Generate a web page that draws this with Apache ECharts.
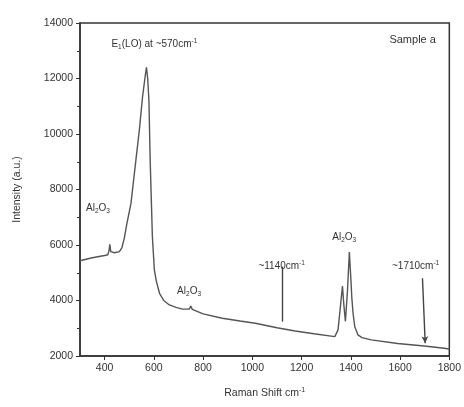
<!DOCTYPE html>
<html><head><meta charset="utf-8">
<script src="https://cdn.jsdelivr.net/npm/echarts@6/dist/echarts.min.js"></script>
<style>html,body{margin:0;padding:0;background:#fff}#c{width:464px;height:407px}</style>
</head><body><div id="c"></div>
<script>
const ramanShift = [300,312,350,400,413,418,421,425,440,460,470,480,490,507,527,541,554,565,570,575,580,585,594,602,610,623,640,663,690,717,744,750,756,764,800,878,950,1012,1100,1174,1250,1335,1348,1359,1366,1372,1378,1386,1394,1400,1404,1409,1416,1429,1445,1483,1590,1698,1779,1800];
const intensity = [5430,5460,5540,5620,5650,5800,6020,5760,5720,5760,5900,6250,6750,7500,9060,10140,11340,12100,12400,12000,11200,9060,6300,5100,4700,4260,4000,3840,3750,3690,3690,3800,3680,3620,3520,3360,3260,3180,3020,2900,2800,2700,2940,3900,4520,3800,3250,4300,5750,4800,4100,3540,3050,2760,2660,2580,2450,2360,2280,2250];
const xTicks = [400,600,800,1000,1200,1400,1600,1800];
const yTicks = [2000,4000,6000,8000,10000,12000,14000];
const annotations = [
  {x:602, y:13220, key:'e1'},
  {x:1651, y:13390, key:'sample'},
  {x:373, y:7330, key:'al'},
  {x:743, y:4340, key:'al'},
  {x:1373, y:6290, key:'al'},
  {x:1119, y:5250, key:'c1140'},
  {x:1663, y:5250, key:'c1710'}
];
const line1140 = [[1123, 5220], [1123, 3240]];
const arrow1710 = [[1691, 4800], [1702, 2460]];

const rich = {
  n:{fontFamily:'Liberation Sans',fontSize:10,color:'#333',verticalAlign:'middle',lineHeight:14},
  big:{fontFamily:'Liberation Sans',fontSize:11,color:'#333',lineHeight:14},
  sub:{fontFamily:'Liberation Sans',fontSize:6.5,color:'#333',padding:[6,0,0,0],lineHeight:14},
  sup:{fontFamily:'Liberation Sans',fontSize:6.5,color:'#333',padding:[0,0,6,0],lineHeight:14}
};
const texts = {
  e1:'{n|E}{sub|1}{n|(LO) at ~570cm}{sup|-1}',
  sample:'{big|Sample a}',
  al:'{n|Al}{sub|2}{n|O}{sub|3}',
  c1140:'{n|~1140cm}{sup|-1}',
  c1710:'{n|~1710cm}{sup|-1}'
};

const chart = echarts.init(document.getElementById('c'));
const axisStyle = {lineStyle:{color:'#333',width:1.5}};
chart.setOption({
  animation:false,
  backgroundColor:'#fff',
  grid:{left:80,right:12,top:23,bottom:51,show:true,borderColor:'#333',borderWidth:1.5},
  xAxis:{type:'value',min:300,max:1800,interval:200,
    axisLine:axisStyle,
    axisTick:{show:true,length:4,lineStyle:{color:'#333'},customValues:xTicks},
    minorTick:{show:true,splitNumber:2,length:3,lineStyle:{color:'#333'}},
    axisLabel:{fontFamily:'Liberation Sans',fontSize:10.5,color:'#333',customValues:xTicks,margin:7,formatter:v=>String(v)},
    splitLine:{show:false},
    name:'{n|Raman Shift cm}{sup|-1}',nameLocation:'middle',nameGap:30,
    nameTextStyle:{rich:{n:{fontFamily:'Liberation Sans',fontSize:10.5,color:'#333',lineHeight:14},sup:{fontFamily:'Liberation Sans',fontSize:7,color:'#333',padding:[0,0,6,0],lineHeight:14}}}
  },
  yAxis:{type:'value',min:2000,max:14000,interval:2000,
    axisLine:axisStyle,
    axisTick:{show:true,length:4,lineStyle:{color:'#333'}},
    minorTick:{show:true,splitNumber:2,length:3,lineStyle:{color:'#333'}},
    axisLabel:{fontFamily:'Liberation Sans',fontSize:10.5,color:'#333',margin:7,formatter:v=>String(v)},
    splitLine:{show:false},
    name:'Intensity (a.u.)',nameLocation:'middle',nameGap:57,
    nameTextStyle:{fontFamily:'Liberation Sans',fontSize:10.5,color:'#333'}
  },
  series:[{
    type:'line',
    data:ramanShift.map((v,i)=>[v,intensity[i]]),
    showSymbol:false,
    lineStyle:{color:'#555',width:1.4},
    markLine:{
      silent:true,animation:false,
      lineStyle:{color:'#444',width:1.4,type:'solid'},
      label:{show:false},
      data:[
        [{coord:line1140[0],symbol:'none'},{coord:line1140[1],symbol:'none'}],
        [{coord:arrow1710[0],symbol:'none'},{coord:arrow1710[1],symbol:'arrow',symbolSize:[5,7]}]
      ]
    },
    markPoint:{
      silent:true,animation:false,symbol:'circle',symbolSize:0,
      data:annotations.map(a=>({coord:[a.x,a.y],value:a.key,
        label:{show:true,position:'inside',formatter:texts[a.key],rich:rich}}))
    }
  }]
});
</script></body></html>
